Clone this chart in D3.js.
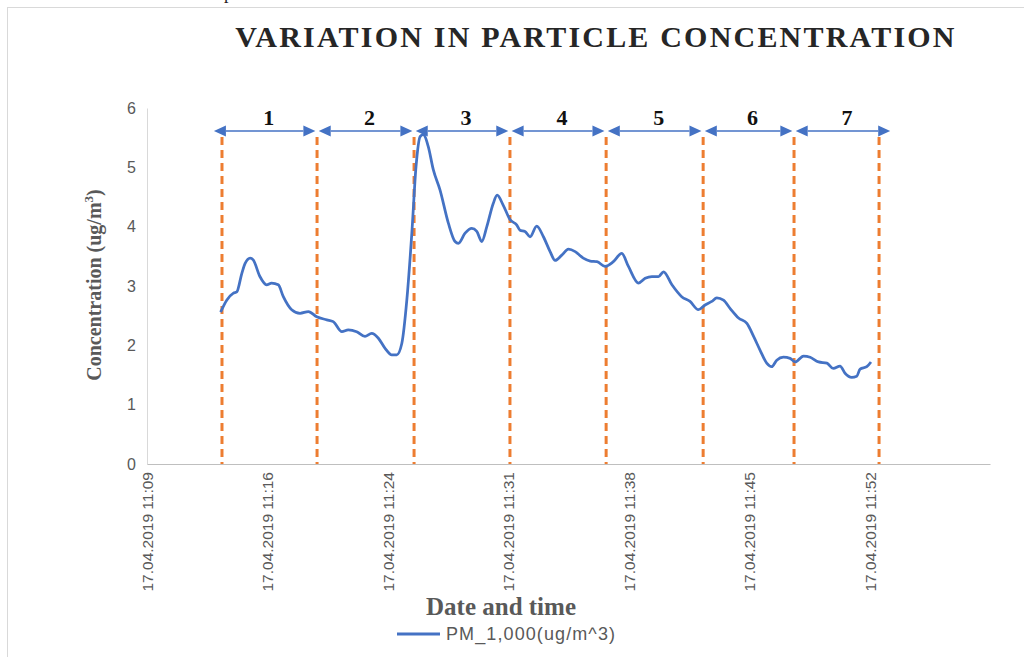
<!DOCTYPE html>
<html>
<head>
<meta charset="utf-8">
<script src="https://cdn.jsdelivr.net/npm/d3@7"></script>
<style>
  body { margin: 0; background: #fff; }
  svg { display: block; }
</style>
</head>
<body>
<svg width="1024" height="657"></svg>
<script>
// PM_1,000 readings, 17.04.2019
var times = ["11:14:00","11:14:22","11:14:46","11:14:58","11:15:16","11:15:28","11:15:46","11:15:57","11:16:21","11:16:45",
  "11:17:03","11:17:27","11:17:45","11:18:15","11:18:45","11:19:15","11:19:45","11:20:21","11:20:44","11:21:15",
  "11:21:38","11:22:08","11:22:38","11:23:02","11:23:26","11:23:50","11:24:14","11:24:32","11:24:50","11:25:08",
  "11:25:26","11:25:41","11:25:56","11:26:07","11:26:25","11:26:43","11:27:07","11:27:37","11:28:01","11:28:13",
  "11:28:37","11:29:01","11:29:19","11:29:37","11:29:55","11:30:18","11:30:32","11:30:54","11:31:18","11:31:42",
  "11:31:54","11:32:12","11:32:30","11:32:54","11:33:18","11:33:42","11:34:00","11:34:24","11:34:48","11:35:12",
  "11:35:41","11:36:06","11:36:30","11:36:59","11:37:29","11:37:59","11:38:23","11:38:59","11:39:23","11:39:47",
  "11:40:11","11:40:29","11:40:59","11:41:34","11:42:04","11:42:34","11:42:58","11:43:22","11:43:40","11:44:04",
  "11:44:28","11:44:58","11:45:28","11:45:52","11:46:15","11:46:39","11:46:57","11:47:15","11:47:39","11:48:03",
  "11:48:21","11:48:51","11:49:15","11:49:45","11:50:15","11:50:38","11:51:02","11:51:20","11:51:44","11:52:02",
  "11:52:14","11:52:38","11:52:53"];
var conc = [2.56,2.76,2.88,2.90,3.21,3.38,3.47,3.44,3.16,3.02,
  3.05,3.02,2.82,2.60,2.54,2.57,2.48,2.43,2.40,2.23,
  2.26,2.23,2.15,2.20,2.12,1.95,1.84,1.84,2.03,2.76,
  3.89,5.01,5.52,5.55,5.35,4.96,4.62,4.06,3.75,3.72,
  3.89,3.97,3.92,3.75,4.00,4.39,4.53,4.36,4.12,4.03,
  3.94,3.92,3.83,4.01,3.83,3.58,3.43,3.52,3.62,3.58,
  3.47,3.42,3.41,3.33,3.41,3.55,3.33,3.05,3.13,3.16,
  3.16,3.24,3.02,2.82,2.74,2.60,2.68,2.74,2.80,2.76,
  2.62,2.46,2.37,2.15,1.92,1.70,1.64,1.75,1.80,1.78,
  1.72,1.82,1.80,1.72,1.70,1.61,1.65,1.53,1.46,1.48,
  1.60,1.64,1.72];

// phase boundaries (dashed lines) and labelled arrows
var phaseBounds = ["11:14:05","11:19:46","11:25:34","11:31:18","11:37:03","11:42:51","11:48:17","11:53:22"];
var phaseLabels = ["1","2","3","4","5","6","7"];
var arrowStarts = ["11:13:36","11:19:52","11:25:40","11:31:24","11:37:09","11:42:57","11:48:23"];
var arrowEnds   = ["11:19:40","11:25:28","11:31:12","11:36:57","11:42:45","11:48:11","11:54:02"];

var xTicks = ["11:09:36","11:16:48","11:24:00","11:31:12","11:38:24","11:45:36","11:52:48"];
var yTicks = [0, 1, 2, 3, 4, 5, 6];

var parse = d3.timeParse("%Y-%m-%d %H:%M:%S");
function t(s) { return parse("2019-04-17 " + s); }

var data = times.map((s, i) => ({ time: t(s), value: conc[i] }));

var x = d3.scaleTime().domain([t("11:09:36"), t("12:00:00")]).range([147, 990]);
var y = d3.scaleLinear().domain([0, 6]).range([464, 108]);

var svg = d3.select("svg");
var blue = "#4472C4", orange = "#ED7D31", grey = "#595959";

// chart frame (cut off at right and bottom)
svg.append("rect")
  .attr("x", 7.5).attr("y", 7.5)
  .attr("width", 1030).attr("height", 670)
  .attr("fill", "#fff")
  .attr("stroke", "#d9d9d9");

// stray glyph from the page above the chart
svg.append("text")
  .attr("x", 224).attr("y", -1)
  .style("font", "18px 'Liberation Serif', serif")
  .attr("fill", "#222")
  .text("p");

svg.append("text")
  .attr("x", 596).attr("y", 47)
  .attr("text-anchor", "middle")
  .style("font", "bold 30px 'Liberation Serif', serif")
  .style("letter-spacing", "2.2px")
  .attr("fill", "#262626")
  .text("VARIATION IN PARTICLE CONCENTRATION");

// y axis
var yAxis = svg.append("g")
  .attr("transform", "translate(147,0)")
  .call(d3.axisLeft(y).tickValues(yTicks).tickSize(0).tickPadding(11).tickFormat(d3.format("d")));
yAxis.select(".domain").attr("stroke", "#d9d9d9");
yAxis.selectAll("text")
  .style("font", "16px 'Liberation Sans', sans-serif")
  .attr("fill", grey);

// x axis
var xAxis = svg.append("g")
  .attr("transform", "translate(0,464)")
  .call(d3.axisBottom(x).tickValues(xTicks.map(t)).tickSize(0)
    .tickFormat(d3.timeFormat("%d.%m.%Y %H:%M")));
xAxis.select(".domain").attr("stroke", "#bfbfbf");
xAxis.selectAll("text")
  .attr("transform", "rotate(-90)")
  .attr("text-anchor", "end")
  .attr("x", -8).attr("y", 0).attr("dy", "0.35em")
  .style("font", "15.5px 'Liberation Sans', sans-serif")
  .attr("fill", grey);

// dashed phase boundaries
svg.append("g").selectAll("line")
  .data(phaseBounds)
  .join("line")
  .attr("x1", d => x(t(d))).attr("x2", d => x(t(d)))
  .attr("y1", 137).attr("y2", y(0))
  .attr("stroke", orange)
  .attr("stroke-width", 3)
  .attr("stroke-dasharray", "8,5");

// concentration line
svg.append("path")
  .datum(data)
  .attr("fill", "none")
  .attr("stroke", blue)
  .attr("stroke-width", 2.75)
  .attr("stroke-linejoin", "round")
  .attr("d", d3.line().x(d => x(d.time)).y(d => y(d.value)).curve(d3.curveMonotoneX));

// phase arrows
var arrowY = 131, head = 12, half = 5.5;
var arrows = svg.append("g").selectAll("g")
  .data(phaseLabels.map((l, i) => ({ label: l, x0: x(t(arrowStarts[i])), x1: x(t(arrowEnds[i])) })))
  .join("g");
arrows.append("line")
  .attr("x1", d => d.x0 + head).attr("x2", d => d.x1 - head)
  .attr("y1", arrowY).attr("y2", arrowY)
  .attr("stroke", blue).attr("stroke-width", 1.5);
arrows.append("path")
  .attr("fill", blue)
  .attr("d", d => "M" + d.x0 + "," + arrowY + "L" + (d.x0 + head) + "," + (arrowY - half) + "L" + (d.x0 + head) + "," + (arrowY + half) + "Z" +
    "M" + d.x1 + "," + arrowY + "L" + (d.x1 - head) + "," + (arrowY - half) + "L" + (d.x1 - head) + "," + (arrowY + half) + "Z");
arrows.append("text")
  .attr("x", d => (d.x0 + d.x1) / 2 + 4).attr("y", 125)
  .attr("text-anchor", "middle")
  .style("font", "bold 22px 'Liberation Serif', serif")
  .attr("fill", "#111")
  .text(d => d.label);

// axis titles
var yt = svg.append("text")
  .attr("transform", "translate(101,285) rotate(-90)")
  .attr("text-anchor", "middle")
  .style("font", "bold 20px 'Liberation Serif', serif")
  .attr("fill", grey);
yt.append("tspan").text("Concentration (ug/m");
yt.append("tspan").attr("dy", -8).style("font-size", "13px").text("3");
yt.append("tspan").attr("dy", 8).text(")");

svg.append("text")
  .attr("x", 501).attr("y", 615)
  .attr("text-anchor", "middle")
  .style("font", "bold 25px 'Liberation Serif', serif")
  .attr("fill", grey)
  .text("Date and time");

// legend
svg.append("line")
  .attr("x1", 397).attr("x2", 440)
  .attr("y1", 634).attr("y2", 634)
  .attr("stroke", blue).attr("stroke-width", 3);
svg.append("text")
  .attr("x", 446).attr("y", 640)
  .style("font", "18px 'Liberation Sans', sans-serif")
  .style("letter-spacing", "1.1px")
  .attr("fill", grey)
  .text("PM_1,000(ug/m^3)");
</script>
</body>
</html>
